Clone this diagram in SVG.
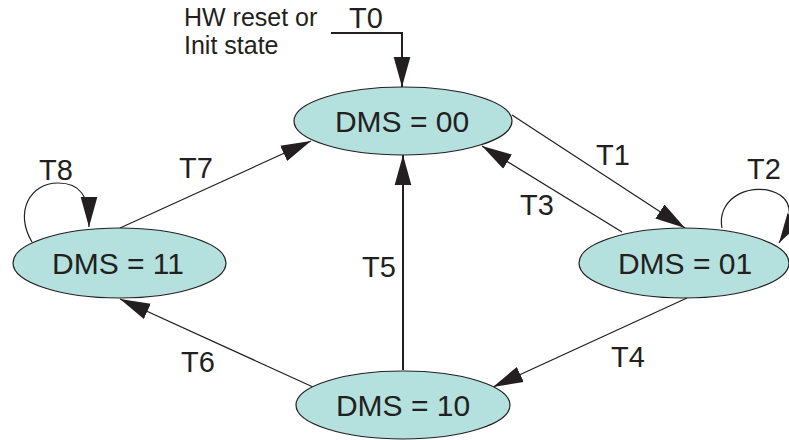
<svg xmlns="http://www.w3.org/2000/svg" width="789" height="440" viewBox="0 0 789 440">
<style>
.node ellipse{fill:#b4e1de;stroke:#231f20;stroke-width:1.2}
.lbl{font-family:"Liberation Sans",Arial,sans-serif;fill:#231f20}
.nt{font-size:30px;text-anchor:middle}
.tl{font-size:29px}
.note{font-size:25px}
.c{fill:none;stroke:#231f20;stroke-width:1.2}
.thick{stroke-width:2}
</style>
<defs>
<marker id="ah" markerUnits="userSpaceOnUse" markerWidth="30" markerHeight="20" viewBox="0 0 27 15" refX="27" refY="7.5" orient="auto">
<path d="M0,0 L27,7.5 L0,15 Z" fill="#231f20"/>
</marker>
</defs>
<g id="connectors">
<polyline class="c thick" points="331,33 402,33 402,87" marker-end="url(#ah)"/>
<line class="c" x1="512" y1="115" x2="685" y2="228" marker-end="url(#ah)"/>
<line class="c" x1="622" y1="232" x2="482" y2="146" marker-end="url(#ah)"/>
<path class="c" d="M722,228 C716,196 755,180 780,195 C795,205 790,225 779,243" marker-end="url(#ah)"/>
<line class="c" x1="687" y1="298" x2="493" y2="387" marker-end="url(#ah)"/>
<line class="c thick" x1="403" y1="370" x2="403" y2="155" marker-end="url(#ah)"/>
<line class="c" x1="313" y1="387" x2="120" y2="299" marker-end="url(#ah)"/>
<line class="c" x1="120" y1="228" x2="311" y2="141" marker-end="url(#ah)"/>
<path class="c" d="M32,242 C14,212 30,183 58,183 C80,183 89,195 89,227" marker-end="url(#ah)"/>
</g>
<g id="n00" class="node"><ellipse cx="403" cy="121" rx="109" ry="34"/><text class="lbl nt" x="402" y="132">DMS = 00</text></g>
<g id="n01" class="node"><ellipse cx="684" cy="263" rx="105" ry="35"/><text class="lbl nt" x="685" y="274">DMS = 01</text></g>
<g id="n11" class="node"><ellipse cx="119.5" cy="263" rx="106.5" ry="35"/><text class="lbl nt" x="118" y="274">DMS = 11</text></g>
<g id="n10" class="node"><ellipse cx="403" cy="405" rx="107" ry="34"/><text class="lbl nt" x="403" y="416">DMS = 10</text></g>
<g id="labels">
<text class="lbl note" x="184" y="26">HW reset or</text>
<text class="lbl note" x="184" y="54">Init state</text>
<text class="lbl tl" x="349" y="28">T0</text>
<text class="lbl tl" x="596" y="165">T1</text>
<text class="lbl tl" x="747" y="179">T2</text>
<text class="lbl tl" x="520" y="215">T3</text>
<text class="lbl tl" x="611" y="367">T4</text>
<text class="lbl tl" x="362" y="277">T5</text>
<text class="lbl tl" x="181" y="372">T6</text>
<text class="lbl tl" x="179" y="178">T7</text>
<text class="lbl tl" x="39" y="180">T8</text>
</g>
</svg>
